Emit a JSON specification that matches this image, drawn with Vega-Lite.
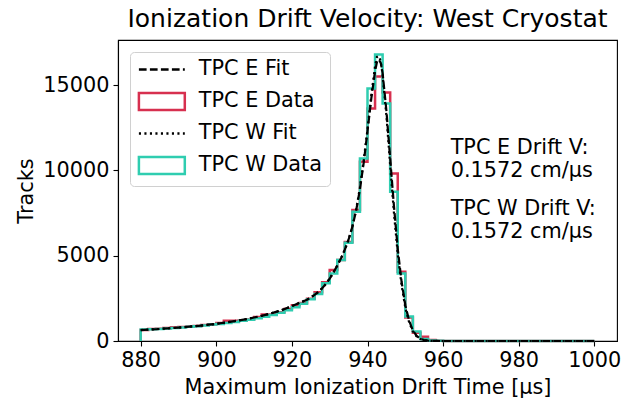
{
  "$schema": "https://vega.github.io/schema/vega-lite/v6.json",
  "width": 499,
  "height": 301,
  "autosize": {"type": "none"},
  "padding": {"left": 118, "top": 40, "right": 16, "bottom": 61},
  "background": "white",
  "title": {"text": "Ionization Drift Velocity: West Cryostat", "fontSize": 25, "font": "DejaVu Sans", "fontWeight": "normal", "anchor": "middle", "color": "black", "offset": 8},
  "datasets": {
    "hist": [
      {"s": "TPC E Data", "x": 880, "y": 0, "o": 0},
      {"s": "TPC E Data", "x": 880, "y": 650, "o": 1},
      {"s": "TPC E Data", "x": 882, "y": 700, "o": 2},
      {"s": "TPC E Data", "x": 884, "y": 720, "o": 3},
      {"s": "TPC E Data", "x": 886, "y": 760, "o": 4},
      {"s": "TPC E Data", "x": 888, "y": 800, "o": 5},
      {"s": "TPC E Data", "x": 890, "y": 820, "o": 6},
      {"s": "TPC E Data", "x": 892, "y": 850, "o": 7},
      {"s": "TPC E Data", "x": 894, "y": 880, "o": 8},
      {"s": "TPC E Data", "x": 896, "y": 940, "o": 9},
      {"s": "TPC E Data", "x": 898, "y": 980, "o": 10},
      {"s": "TPC E Data", "x": 900, "y": 1060, "o": 11},
      {"s": "TPC E Data", "x": 902, "y": 1180, "o": 12},
      {"s": "TPC E Data", "x": 904, "y": 1180, "o": 13},
      {"s": "TPC E Data", "x": 906, "y": 1200, "o": 14},
      {"s": "TPC E Data", "x": 908, "y": 1260, "o": 15},
      {"s": "TPC E Data", "x": 910, "y": 1400, "o": 16},
      {"s": "TPC E Data", "x": 912, "y": 1560, "o": 17},
      {"s": "TPC E Data", "x": 914, "y": 1560, "o": 18},
      {"s": "TPC E Data", "x": 916, "y": 1680, "o": 19},
      {"s": "TPC E Data", "x": 918, "y": 1880, "o": 20},
      {"s": "TPC E Data", "x": 920, "y": 2100, "o": 21},
      {"s": "TPC E Data", "x": 922, "y": 2230, "o": 22},
      {"s": "TPC E Data", "x": 924, "y": 2480, "o": 23},
      {"s": "TPC E Data", "x": 926, "y": 2850, "o": 24},
      {"s": "TPC E Data", "x": 928, "y": 3450, "o": 25},
      {"s": "TPC E Data", "x": 930, "y": 4160, "o": 26},
      {"s": "TPC E Data", "x": 932, "y": 4750, "o": 27},
      {"s": "TPC E Data", "x": 934, "y": 5800, "o": 28},
      {"s": "TPC E Data", "x": 936, "y": 7680, "o": 29},
      {"s": "TPC E Data", "x": 938, "y": 10500, "o": 30},
      {"s": "TPC E Data", "x": 940, "y": 13630, "o": 31},
      {"s": "TPC E Data", "x": 942, "y": 15500, "o": 32},
      {"s": "TPC E Data", "x": 944, "y": 14570, "o": 33},
      {"s": "TPC E Data", "x": 946, "y": 9820, "o": 34},
      {"s": "TPC E Data", "x": 948, "y": 4060, "o": 35},
      {"s": "TPC E Data", "x": 950, "y": 1380, "o": 36},
      {"s": "TPC E Data", "x": 952, "y": 480, "o": 37},
      {"s": "TPC E Data", "x": 954, "y": 250, "o": 38},
      {"s": "TPC E Data", "x": 956, "y": 60, "o": 39},
      {"s": "TPC E Data", "x": 958, "y": 15, "o": 40},
      {"s": "TPC E Data", "x": 960, "y": 6, "o": 41},
      {"s": "TPC E Data", "x": 962, "y": 3, "o": 42},
      {"s": "TPC E Data", "x": 964, "y": 2, "o": 43},
      {"s": "TPC E Data", "x": 966, "y": 2, "o": 44},
      {"s": "TPC E Data", "x": 968, "y": 1, "o": 45},
      {"s": "TPC E Data", "x": 970, "y": 1, "o": 46},
      {"s": "TPC E Data", "x": 972, "y": 1, "o": 47},
      {"s": "TPC E Data", "x": 974, "y": 1, "o": 48},
      {"s": "TPC E Data", "x": 976, "y": 0, "o": 49},
      {"s": "TPC E Data", "x": 978, "y": 1, "o": 50},
      {"s": "TPC E Data", "x": 980, "y": 0, "o": 51},
      {"s": "TPC E Data", "x": 982, "y": 0, "o": 52},
      {"s": "TPC E Data", "x": 984, "y": 1, "o": 53},
      {"s": "TPC E Data", "x": 986, "y": 0, "o": 54},
      {"s": "TPC E Data", "x": 988, "y": 0, "o": 55},
      {"s": "TPC E Data", "x": 990, "y": 0, "o": 56},
      {"s": "TPC E Data", "x": 992, "y": 1, "o": 57},
      {"s": "TPC E Data", "x": 994, "y": 0, "o": 58},
      {"s": "TPC E Data", "x": 996, "y": 0, "o": 59},
      {"s": "TPC E Data", "x": 998, "y": 0, "o": 60},
      {"s": "TPC E Data", "x": 1000, "y": 0, "o": 61},
      {"s": "TPC W Data", "x": 880, "y": 0, "o": 0},
      {"s": "TPC W Data", "x": 880, "y": 680, "o": 1},
      {"s": "TPC W Data", "x": 882, "y": 690, "o": 2},
      {"s": "TPC W Data", "x": 884, "y": 700, "o": 3},
      {"s": "TPC W Data", "x": 886, "y": 730, "o": 4},
      {"s": "TPC W Data", "x": 888, "y": 760, "o": 5},
      {"s": "TPC W Data", "x": 890, "y": 790, "o": 6},
      {"s": "TPC W Data", "x": 892, "y": 830, "o": 7},
      {"s": "TPC W Data", "x": 894, "y": 870, "o": 8},
      {"s": "TPC W Data", "x": 896, "y": 910, "o": 9},
      {"s": "TPC W Data", "x": 898, "y": 960, "o": 10},
      {"s": "TPC W Data", "x": 900, "y": 1000, "o": 11},
      {"s": "TPC W Data", "x": 902, "y": 1060, "o": 12},
      {"s": "TPC W Data", "x": 904, "y": 1120, "o": 13},
      {"s": "TPC W Data", "x": 906, "y": 1180, "o": 14},
      {"s": "TPC W Data", "x": 908, "y": 1250, "o": 15},
      {"s": "TPC W Data", "x": 910, "y": 1330, "o": 16},
      {"s": "TPC W Data", "x": 912, "y": 1420, "o": 17},
      {"s": "TPC W Data", "x": 914, "y": 1520, "o": 18},
      {"s": "TPC W Data", "x": 916, "y": 1650, "o": 19},
      {"s": "TPC W Data", "x": 918, "y": 1800, "o": 20},
      {"s": "TPC W Data", "x": 920, "y": 1980, "o": 21},
      {"s": "TPC W Data", "x": 922, "y": 2180, "o": 22},
      {"s": "TPC W Data", "x": 924, "y": 2450, "o": 23},
      {"s": "TPC W Data", "x": 926, "y": 2750, "o": 24},
      {"s": "TPC W Data", "x": 928, "y": 3380, "o": 25},
      {"s": "TPC W Data", "x": 930, "y": 3960, "o": 26},
      {"s": "TPC W Data", "x": 932, "y": 4745, "o": 27},
      {"s": "TPC W Data", "x": 934, "y": 5760, "o": 28},
      {"s": "TPC W Data", "x": 936, "y": 7580, "o": 29},
      {"s": "TPC W Data", "x": 938, "y": 10700, "o": 30},
      {"s": "TPC W Data", "x": 940, "y": 14800, "o": 31},
      {"s": "TPC W Data", "x": 942, "y": 16790, "o": 32},
      {"s": "TPC W Data", "x": 944, "y": 13920, "o": 33},
      {"s": "TPC W Data", "x": 946, "y": 8750, "o": 34},
      {"s": "TPC W Data", "x": 948, "y": 3960, "o": 35},
      {"s": "TPC W Data", "x": 950, "y": 1430, "o": 36},
      {"s": "TPC W Data", "x": 952, "y": 550, "o": 37},
      {"s": "TPC W Data", "x": 954, "y": 120, "o": 38},
      {"s": "TPC W Data", "x": 956, "y": 30, "o": 39},
      {"s": "TPC W Data", "x": 958, "y": 10, "o": 40},
      {"s": "TPC W Data", "x": 960, "y": 4, "o": 41},
      {"s": "TPC W Data", "x": 962, "y": 2, "o": 42},
      {"s": "TPC W Data", "x": 964, "y": 2, "o": 43},
      {"s": "TPC W Data", "x": 966, "y": 1, "o": 44},
      {"s": "TPC W Data", "x": 968, "y": 1, "o": 45},
      {"s": "TPC W Data", "x": 970, "y": 1, "o": 46},
      {"s": "TPC W Data", "x": 972, "y": 0, "o": 47},
      {"s": "TPC W Data", "x": 974, "y": 1, "o": 48},
      {"s": "TPC W Data", "x": 976, "y": 0, "o": 49},
      {"s": "TPC W Data", "x": 978, "y": 0, "o": 50},
      {"s": "TPC W Data", "x": 980, "y": 1, "o": 51},
      {"s": "TPC W Data", "x": 982, "y": 0, "o": 52},
      {"s": "TPC W Data", "x": 984, "y": 0, "o": 53},
      {"s": "TPC W Data", "x": 986, "y": 0, "o": 54},
      {"s": "TPC W Data", "x": 988, "y": 1, "o": 55},
      {"s": "TPC W Data", "x": 990, "y": 0, "o": 56},
      {"s": "TPC W Data", "x": 992, "y": 0, "o": 57},
      {"s": "TPC W Data", "x": 994, "y": 0, "o": 58},
      {"s": "TPC W Data", "x": 996, "y": 0, "o": 59},
      {"s": "TPC W Data", "x": 998, "y": 0, "o": 60},
      {"s": "TPC W Data", "x": 1000, "y": 0, "o": 61}
    ],
    "fit": [
      {"s": "TPC E Fit", "x": 880, "y": 640}, {"s": "TPC E Fit", "x": 882, "y": 665}, {"s": "TPC E Fit", "x": 884, "y": 690},
      {"s": "TPC E Fit", "x": 886, "y": 720}, {"s": "TPC E Fit", "x": 888, "y": 750}, {"s": "TPC E Fit", "x": 890, "y": 785},
      {"s": "TPC E Fit", "x": 892, "y": 820}, {"s": "TPC E Fit", "x": 894, "y": 860}, {"s": "TPC E Fit", "x": 896, "y": 905},
      {"s": "TPC E Fit", "x": 898, "y": 955}, {"s": "TPC E Fit", "x": 900, "y": 1010}, {"s": "TPC E Fit", "x": 902, "y": 1070},
      {"s": "TPC E Fit", "x": 904, "y": 1135}, {"s": "TPC E Fit", "x": 906, "y": 1205}, {"s": "TPC E Fit", "x": 908, "y": 1285},
      {"s": "TPC E Fit", "x": 910, "y": 1375}, {"s": "TPC E Fit", "x": 912, "y": 1475}, {"s": "TPC E Fit", "x": 914, "y": 1590},
      {"s": "TPC E Fit", "x": 916, "y": 1720}, {"s": "TPC E Fit", "x": 918, "y": 1870}, {"s": "TPC E Fit", "x": 920, "y": 2040},
      {"s": "TPC E Fit", "x": 922, "y": 2240}, {"s": "TPC E Fit", "x": 924, "y": 2420}, {"s": "TPC E Fit", "x": 926, "y": 2700},
      {"s": "TPC E Fit", "x": 927, "y": 2880}, {"s": "TPC E Fit", "x": 928, "y": 3090}, {"s": "TPC E Fit", "x": 929, "y": 3350},
      {"s": "TPC E Fit", "x": 930, "y": 3650}, {"s": "TPC E Fit", "x": 931, "y": 4020}, {"s": "TPC E Fit", "x": 932, "y": 4420},
      {"s": "TPC E Fit", "x": 933, "y": 4850}, {"s": "TPC E Fit", "x": 934, "y": 5350}, {"s": "TPC E Fit", "x": 935, "y": 5950},
      {"s": "TPC E Fit", "x": 936, "y": 6700}, {"s": "TPC E Fit", "x": 937, "y": 7650}, {"s": "TPC E Fit", "x": 938, "y": 8900},
      {"s": "TPC E Fit", "x": 939, "y": 10450}, {"s": "TPC E Fit", "x": 940, "y": 12300}, {"s": "TPC E Fit", "x": 941, "y": 14200},
      {"s": "TPC E Fit", "x": 942, "y": 15800}, {"s": "TPC E Fit", "x": 942.5, "y": 16350}, {"s": "TPC E Fit", "x": 943, "y": 16500},
      {"s": "TPC E Fit", "x": 943.5, "y": 16300}, {"s": "TPC E Fit", "x": 944, "y": 15700}, {"s": "TPC E Fit", "x": 945, "y": 13500},
      {"s": "TPC E Fit", "x": 946, "y": 10700}, {"s": "TPC E Fit", "x": 947, "y": 7900}, {"s": "TPC E Fit", "x": 948, "y": 5400},
      {"s": "TPC E Fit", "x": 949, "y": 3500}, {"s": "TPC E Fit", "x": 950, "y": 2100}, {"s": "TPC E Fit", "x": 951, "y": 1200},
      {"s": "TPC E Fit", "x": 952, "y": 620}, {"s": "TPC E Fit", "x": 953, "y": 300}, {"s": "TPC E Fit", "x": 954, "y": 130},
      {"s": "TPC E Fit", "x": 955, "y": 50}, {"s": "TPC E Fit", "x": 956, "y": 18}, {"s": "TPC E Fit", "x": 957, "y": 6},
      {"s": "TPC E Fit", "x": 958, "y": 2}, {"s": "TPC E Fit", "x": 960, "y": 0}, {"s": "TPC E Fit", "x": 1000, "y": 0},
      {"s": "TPC W Fit", "x": 880, "y": 640}, {"s": "TPC W Fit", "x": 882, "y": 665}, {"s": "TPC W Fit", "x": 884, "y": 690},
      {"s": "TPC W Fit", "x": 886, "y": 720}, {"s": "TPC W Fit", "x": 888, "y": 750}, {"s": "TPC W Fit", "x": 890, "y": 785},
      {"s": "TPC W Fit", "x": 892, "y": 820}, {"s": "TPC W Fit", "x": 894, "y": 860}, {"s": "TPC W Fit", "x": 896, "y": 905},
      {"s": "TPC W Fit", "x": 898, "y": 955}, {"s": "TPC W Fit", "x": 900, "y": 1010}, {"s": "TPC W Fit", "x": 902, "y": 1070},
      {"s": "TPC W Fit", "x": 904, "y": 1135}, {"s": "TPC W Fit", "x": 906, "y": 1205}, {"s": "TPC W Fit", "x": 908, "y": 1285},
      {"s": "TPC W Fit", "x": 910, "y": 1375}, {"s": "TPC W Fit", "x": 912, "y": 1475}, {"s": "TPC W Fit", "x": 914, "y": 1590},
      {"s": "TPC W Fit", "x": 916, "y": 1720}, {"s": "TPC W Fit", "x": 918, "y": 1870}, {"s": "TPC W Fit", "x": 920, "y": 2040},
      {"s": "TPC W Fit", "x": 922, "y": 2240}, {"s": "TPC W Fit", "x": 924, "y": 2420}, {"s": "TPC W Fit", "x": 926, "y": 2700},
      {"s": "TPC W Fit", "x": 927, "y": 2880}, {"s": "TPC W Fit", "x": 928, "y": 3090}, {"s": "TPC W Fit", "x": 929, "y": 3350},
      {"s": "TPC W Fit", "x": 930, "y": 3650}, {"s": "TPC W Fit", "x": 931, "y": 4020}, {"s": "TPC W Fit", "x": 932, "y": 4420},
      {"s": "TPC W Fit", "x": 933, "y": 4850}, {"s": "TPC W Fit", "x": 934, "y": 5350}, {"s": "TPC W Fit", "x": 935, "y": 5950},
      {"s": "TPC W Fit", "x": 936, "y": 6700}, {"s": "TPC W Fit", "x": 937, "y": 7700}, {"s": "TPC W Fit", "x": 938, "y": 9000},
      {"s": "TPC W Fit", "x": 939, "y": 10600}, {"s": "TPC W Fit", "x": 940, "y": 12400}, {"s": "TPC W Fit", "x": 941, "y": 14400},
      {"s": "TPC W Fit", "x": 942, "y": 16100}, {"s": "TPC W Fit", "x": 942.5, "y": 16650}, {"s": "TPC W Fit", "x": 943, "y": 16700},
      {"s": "TPC W Fit", "x": 943.5, "y": 16400}, {"s": "TPC W Fit", "x": 944, "y": 15600}, {"s": "TPC W Fit", "x": 945, "y": 13200},
      {"s": "TPC W Fit", "x": 946, "y": 10300}, {"s": "TPC W Fit", "x": 947, "y": 7500}, {"s": "TPC W Fit", "x": 948, "y": 5100},
      {"s": "TPC W Fit", "x": 949, "y": 3300}, {"s": "TPC W Fit", "x": 950, "y": 1950}, {"s": "TPC W Fit", "x": 951, "y": 1100},
      {"s": "TPC W Fit", "x": 952, "y": 560}, {"s": "TPC W Fit", "x": 953, "y": 270}, {"s": "TPC W Fit", "x": 954, "y": 120},
      {"s": "TPC W Fit", "x": 955, "y": 45}, {"s": "TPC W Fit", "x": 956, "y": 16}, {"s": "TPC W Fit", "x": 957, "y": 5},
      {"s": "TPC W Fit", "x": 958, "y": 2}, {"s": "TPC W Fit", "x": 960, "y": 0}, {"s": "TPC W Fit", "x": 1000, "y": 0}
    ],
    "notes": [
      {"x": 962, "y": 10957, "t": "TPC E Drift V:"},
      {"x": 962, "y": 9627, "t": "0.1572 cm/μs"},
      {"x": 962, "y": 7383, "t": "TPC W Drift V:"},
      {"x": 962, "y": 6018, "t": "0.1572 cm/μs"}
    ]
  },
  "layer": [
    {
      "data": {"name": "hist"},
      "mark": {"type": "line", "interpolate": "step-after", "strokeWidth": 2.5},
      "encoding": {
        "x": {"field": "x", "type": "quantitative", "scale": {"domain": [874, 1006], "nice": false, "zero": false},
              "axis": {"values": [880, 900, 920, 940, 960, 980, 1000], "format": "d"}, "title": "Maximum Ionization Drift Time [μs]"},
        "y": {"field": "y", "type": "quantitative", "scale": {"domain": [0, 17640], "nice": false},
              "axis": {"values": [0, 5000, 10000, 15000], "format": "d"}, "title": "Tracks"},
        "color": {"field": "s", "type": "nominal",
                  "scale": {"domain": ["TPC E Fit", "TPC E Data", "TPC W Fit", "TPC W Data"], "range": ["black", "#d7304f", "black", "#2fcdb0"]},
                  "legend": {"title": null, "orient": "top-left", "offset": 12, "padding": 7, "rowPadding": 7,
                             "labelFontSize": 20.8, "labelFont": "DejaVu Sans", "labelColor": "black",
                             "symbolSize": 289, "symbolStrokeWidth": 2.5, "labelOffset": 41,
                             "fillColor": "white", "strokeColor": "#d0d0d0", "cornerRadius": 4,
                             "encode": {"symbols": {"update": {
                               "shape": {"signal": "datum.value == 'TPC E Data' || datum.value == 'TPC W Data' ? 'M-1,-1H4.4V1H-1Z' : 'M-1,0H4.4'"},
                               "strokeDash": {"signal": "datum.value == 'TPC E Fit' ? [7.7, 3.3] : (datum.value == 'TPC W Fit' ? [2.1, 3.4] : [100, 0])"},
                               "fill": {"value": "transparent"}
                             }}}}},
        "order": {"field": "o", "type": "quantitative"}
      }
    },
    {
      "data": {"name": "fit"},
      "mark": {"type": "line", "strokeWidth": 2.2},
      "encoding": {
        "x": {"field": "x", "type": "quantitative"},
        "y": {"field": "y", "type": "quantitative"},
        "color": {"field": "s", "type": "nominal",
                  "scale": {"domain": ["TPC E Fit", "TPC E Data", "TPC W Fit", "TPC W Data"], "range": ["black", "#d7304f", "black", "#2fcdb0"]}},
        "strokeDash": {"field": "s", "type": "nominal", "scale": {"domain": ["TPC E Fit", "TPC W Fit"], "range": [[7.7, 3.3], [2.1, 3.4]]}, "legend": null},
        "order": {"field": "x", "type": "quantitative"}
      }
    },
    {
      "data": {"name": "notes"},
      "mark": {"type": "text", "align": "left", "baseline": "alphabetic", "fontSize": 20.8, "font": "DejaVu Sans", "color": "black"},
      "encoding": {
        "x": {"field": "x", "type": "quantitative"},
        "y": {"field": "y", "type": "quantitative"},
        "text": {"field": "t"}
      }
    }
  ],
  "config": {
    "font": "DejaVu Sans",
    "view": {"stroke": "black", "strokeWidth": 1.1},
    "axis": {"grid": false, "labelFontSize": 20.8, "labelFont": "DejaVu Sans", "labelColor": "black",
             "titleFontSize": 20.8, "titleFont": "DejaVu Sans", "titleFontWeight": "normal", "titleColor": "black",
             "tickColor": "black", "tickSize": 5, "tickWidth": 1.1, "domainColor": "black", "domainWidth": 1.1, "labelPadding": 4},
    "axisY": {"titlePadding": 6},
    "axisX": {"titlePadding": 8}
  }
}
